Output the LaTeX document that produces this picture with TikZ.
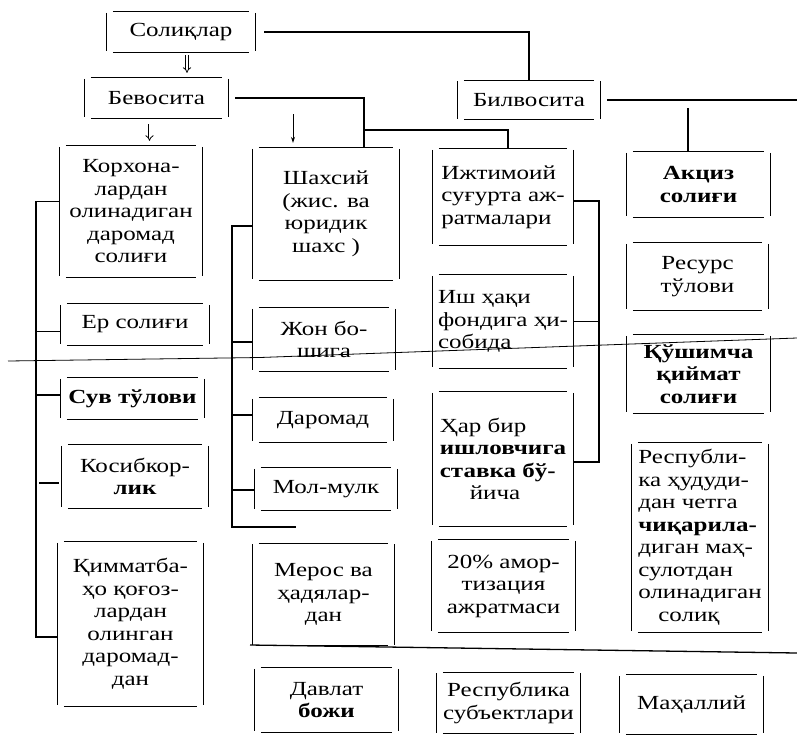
\documentclass[tikz,border=0pt]{standalone}
\usepackage{fontspec}
\setmainfont{Liberation Serif}[FakeStretch=1.25]
\usetikzlibrary{arrows.meta,calc}
\begin{document}
\begin{tikzpicture}[x=1pt,y=-1pt,
  every node/.style={font=\fontsize{20}{22.5}\selectfont},
  box/.style={inner sep=0pt, align=center},
  lbox/.style={inner sep=0pt, align=left},
  side/.style={line width=1.3pt},
  conn/.style={line width=1.3pt},
  darr/.style={double, double distance=2pt, line width=0.8pt, -{Implies}},
  sarr/.style={line width=0.8pt, -{Stealth[length=6pt,width=4pt]}}]
\fill[white] (0,0) rectangle (797,734);
\useasboundingbox (0,0) rectangle (797,734);

% top level
\node[box, minimum width=148pt, minimum height=40pt] (sol) at (181,32) {Солиқлар};
\node[box, minimum width=143pt, minimum height=40pt] (bev) at (156.5,98) {Бевосита};
\node[box, minimum width=142pt, minimum height=39pt] (bil) at (529,100) {Билвосита};

% column 1
\node[box, minimum width=142pt, minimum height=131pt] (kor) at (131,211.5) {Корхона-\\лардан\\олинадиган\\даромад\\солиғи};
\node[box, minimum width=148pt, minimum height=41pt] (er) at (135,324.5) {Ер солиғи};
\node[box, minimum width=143pt, minimum height=41pt] (suv) at (132.5,398.5) {\textbf{Сув тўлови}};
\node[box, minimum width=146pt, minimum height=63pt] (kos) at (135,476.5) {Косибкор-\\\textbf{лик}};
\node[box, minimum width=145pt, minimum height=164pt] (kim) at (130.5,624) {Қимматба-\\ҳо қоғоз-\\лардан\\олинган\\даромад-\\дан};

% column 2
\node[box, minimum width=146pt, minimum height=132pt] (sha) at (326,214) {Шахсий\\(жис. ва\\юридик\\шахс )};
\node[box, minimum width=142pt, minimum height=63pt] (jon) at (324,339.5) {Жон бо-\\шига};
\node[box, minimum width=140pt, minimum height=44pt] (dar) at (323,420) {Даромад};
\node[box, minimum width=142pt, minimum height=42pt] (mol) at (326,489) {Мол-мулк};
\node[box, minimum width=141pt, minimum height=102pt] (mer) at (323.5,594.5) {Мерос ва\\ҳадялар-\\дан};
\node[box, minimum width=143pt, minimum height=64pt] (dav) at (326.5,700) {Давлат\\\textbf{божи}};

% column 3
\node[lbox, minimum width=140pt, minimum height=96pt] (ijt) at (503,197) {Ижтимоий\\суғурта аж-\\ратмалари};
\node[lbox, minimum width=140pt, minimum height=93pt] (ish) at (503,321.5) {Иш ҳақи\\фондига ҳи-\\собида};
\node[lbox, minimum width=140pt, minimum height=134pt] (har) at (503,459) {Ҳар бир\\\textbf{ишловчига}\\\textbf{ставка бў-}\\\hspace*{30pt}йича};
\node[box, minimum width=143pt, minimum height=92pt] (amo) at (503.5,586) {20\% амор-\\тизация\\ажратмаси};
\node[box, minimum width=143pt, minimum height=61pt] (rsu) at (508.5,703) {Республика\\субъектлари};

% column 4
\node[box, minimum width=143pt, minimum height=65pt] (akc) at (698.5,184.5) {\textbf{Акциз}\\\textbf{солиғи}};
\node[box, minimum width=141pt, minimum height=67pt] (res) at (697.5,276.5) {Ресурс\\тўлови};
\node[box, minimum width=143pt, minimum height=78pt] (qus) at (698.5,374) {\textbf{Қўшимча}\\\textbf{қиймат}\\\textbf{солиғи}};
\node[lbox, minimum width=136pt, minimum height=189pt] (rhu) at (700,537.5) {Республи-\\ка ҳудуди-\\дан четга\\\textbf{чиқарила-}\\диган маҳ-\\сулотдан\\олинадиган\\\hspace*{20pt}солиқ};
\node[box, minimum width=143pt, minimum height=59pt] (mah) at (691.5,704.5) {Маҳаллий};

% box borders with open corners
\foreach \n in {sol,bev,bil,kor,er,suv,kos,kim,sha,jon,dar,mol,mer,dav,ijt,ish,har,amo,rsu,akc,res,qus,rhu,mah} {
  \draw[side] ([xshift=6pt]\n.north west) -- ([xshift=-6pt]\n.north east);
  \draw[side] ([xshift=6pt]\n.south west) -- ([xshift=-6pt]\n.south east);
  \draw[side] ([yshift=-1pt]\n.north west) -- ([yshift=1pt]\n.south west);
  \draw[side] ([yshift=-1pt]\n.north east) -- ([yshift=1pt]\n.south east);
}

% connectors from the top
\draw[conn, shorten <=9pt] (sol.east) -| (bil.north);
\coordinate (a1) at ($(sol.south)+(6,3)$);
\draw[darr, shorten >=5pt] (a1) -- (a1 |- bev.north);
\coordinate (a2) at ($(bev.south)+(-7,6)$);
\draw[darr, shorten >=5pt] (a2) -- (a2 |- kor.north);
\coordinate (j1) at (364,130);
\draw[conn, shorten <=7pt] (bev.east) -| (j1) -- (j1 |- sha.north);
\draw[conn] (j1) -| ([xshift=5pt]ijt.north);
\coordinate (a3) at (293,114);
\draw[sarr, shorten >=5pt] (a3) -- (a3 |- sha.north);
\coordinate (e1) at (797,100);
\draw[conn, shorten <=7pt] (bil.east) -- (e1);
\coordinate (k1) at (688,100);
\draw[conn, shorten <=8pt] (k1) -- (k1 |- akc.north);

% column 1 bracket
\coordinate (b1) at (36,637);
\draw[conn] ([yshift=10pt]kor.west) -| (b1) -- (b1 -| kim.west);
\draw[conn] ([yshift=-7pt]er.west) -- ([yshift=-7pt]er.west -| b1);
\draw[conn] ([yshift=3.5pt]suv.west) -- ([yshift=3.5pt]suv.west -| b1);
\draw[conn, line width=2.8pt, shorten <=3pt, shorten >=3pt] ([yshift=-6.5pt]kos.west) -- ([yshift=-6.5pt]kos.west -| b1);

% column 2 bracket
\coordinate (b2) at (232,527);
\coordinate (b2e) at (296,527);
\draw[conn] ([yshift=-12pt]sha.west) -| (b2) -- (b2e);
\draw[conn] ([yshift=-2.5pt]jon.west) -- ([yshift=-2.5pt]jon.west -| b2);
\draw[conn] ([yshift=5pt]dar.west) -- ([yshift=5pt]dar.west -| b2);
\draw[conn] ([yshift=-1pt]mol.west) -- ([yshift=-1pt]mol.west -| b2);

% column 3 bracket
\coordinate (b3) at (599,462);
\draw[conn] ([yshift=-4pt]ijt.east) -| (b3) -- (b3 -| har.east);
\draw[conn] (ish.east) -- (ish.east -| b3);

% long rules
\coordinate (s1) at (8,361);
\coordinate (s2) at (260,357.5);
\coordinate (s3) at (797,338);
\draw[line width=0.8pt] (s1) -- (s2) -- (s3);
\coordinate (m1) at (250,645);
\coordinate (m2) at (797,653);
\draw[conn] (m1) -- (m2);
\end{tikzpicture}
\end{document}
